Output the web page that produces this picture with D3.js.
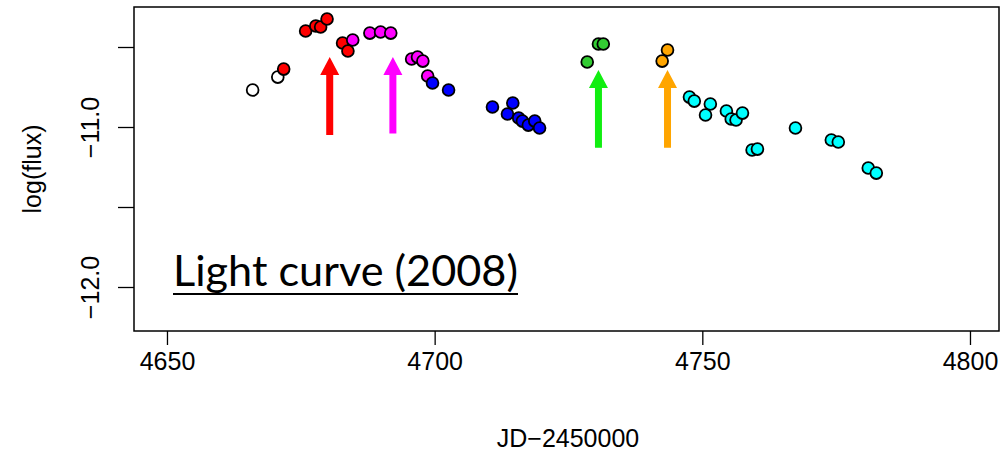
<!DOCTYPE html>
<html>
<head>
<meta charset="utf-8">
<script src="https://cdn.jsdelivr.net/npm/d3@7"></script>
<style>
  body { margin: 0; background: #fff; }
  svg { display: block; }
</style>
</head>
<body>
<script>
// light curve data (JD-2450000, log flux)
var openJD   = [4666.0, 4670.7];
var openFlux = [-10.769, -10.688];

var redJD   = [4671.8, 4675.9, 4677.8, 4678.7, 4679.9, 4682.8, 4683.8];
var redFlux = [-10.638, -10.400, -10.369, -10.375, -10.325, -10.475, -10.525];

var magentaJD   = [4684.7, 4687.9, 4689.9, 4691.8, 4695.7, 4696.8, 4697.8, 4698.7];
var magentaFlux = [-10.456, -10.413, -10.406, -10.413, -10.575, -10.563, -10.588, -10.681];

var blueJD   = [4699.6, 4702.6, 4710.8, 4713.6, 4714.6, 4715.7, 4716.4, 4717.5, 4718.7, 4719.6];
var blueFlux = [-10.725, -10.769, -10.875, -10.919, -10.850, -10.944, -10.963, -10.988, -10.963, -11.006];

var greenJD   = [4728.5, 4730.6, 4731.5];
var greenFlux = [-10.594, -10.481, -10.481];

var orangeJD   = [4742.5, 4743.5];
var orangeFlux = [-10.588, -10.519];

var cyanJD   = [4747.6, 4748.5, 4750.6, 4751.5, 4754.5, 4755.4, 4756.3, 4757.5, 4759.3, 4760.3,
                4767.4, 4774.1, 4775.4, 4781.0, 4782.5];
var cyanFlux = [-10.813, -10.838, -10.925, -10.856, -10.900, -10.950, -10.956, -10.913, -11.144, -11.138,
                -11.006, -11.081, -11.094, -11.256, -11.288];

// arrows marking the flares: jd, tip, tail
var arrowJD   = [4680.4, 4692.2, 4730.6, 4743.5];
var arrowTip  = [-10.5625, -10.5625, -10.644, -10.644];
var arrowTail = [-11.05, -11.04, -11.13, -11.13];
var arrowColors = ["#ff0000", "#ff00ff", "#11ee11", "#ffa500"];

var xTicks = [4650, 4700, 4750, 4800];
var yTicks = [-10.5, -11.0, -11.5, -12.0];
var yTickLabels = ["", "\u221211.0", "", "\u221212.0"];

/* ========= Constants ========= */
var w = 1005;
var h = 452;
var plotLeft = 134, plotRight = 999, plotTop = 7, plotBottom = 331;
var axisFont = "Liberation Sans, Arial, sans-serif";
var axisSize = "25px";

var groups = [
    {jd: openJD, flux: openFlux, fill: "#ffffff"},
    {jd: redJD, flux: redFlux, fill: "#ff0000"},
    {jd: magentaJD, flux: magentaFlux, fill: "#ff00ff"},
    {jd: blueJD, flux: blueFlux, fill: "#0000ff"},
    {jd: greenJD, flux: greenFlux, fill: "#33cc33"},
    {jd: orangeJD, flux: orangeFlux, fill: "#ffa500"},
    {jd: cyanJD, flux: cyanFlux, fill: "#00ffff"}
];

var svg = d3.select("body")
    .append("svg")
    .attr("width", w)
    .attr("height", h);

var xScale = d3.scaleLinear()
    .domain([4643.84, 4805.42])
    .range([plotLeft, plotRight]);
var yScale = d3.scaleLinear()
    .domain([-10.25, -12.275])
    .range([plotTop, plotBottom]);

/* ========= Axes ========= */
var xAxis = svg.append("g")
    .attr("transform", "translate(0," + plotBottom + ")")
    .call(d3.axisBottom(xScale)
        .tickValues(xTicks)
        .tickSize(14)
        .tickPadding(7)
        .tickFormat(d3.format("d")));
xAxis.select(".domain").remove();
xAxis.selectAll("line").attr("stroke", "#000").attr("stroke-width", 1.3);
xAxis.selectAll("text")
    .attr("font-family", axisFont)
    .attr("font-size", axisSize)
    .attr("fill", "#000");

var yAxis = svg.append("g")
    .attr("transform", "translate(" + plotLeft + ",0)")
    .call(d3.axisLeft(yScale)
        .tickValues(yTicks)
        .tickSize(16)
        .tickFormat(function (d, i) { return yTickLabels[i]; }));
yAxis.select(".domain").remove();
yAxis.selectAll("line").attr("stroke", "#000").attr("stroke-width", 1.3);
yAxis.selectAll("text")
    .attr("font-family", axisFont)
    .attr("font-size", axisSize)
    .attr("fill", "#000")
    .attr("text-anchor", "middle")
    .attr("dy", null)
    .attr("x", null)
    .attr("transform", "translate(-44,0) rotate(-90)")
    .attr("dominant-baseline", "central");

// frame
svg.append("rect")
    .attr("x", plotLeft)
    .attr("y", plotTop)
    .attr("width", plotRight - plotLeft)
    .attr("height", plotBottom - plotTop)
    .attr("fill", "none")
    .attr("stroke", "#000")
    .attr("stroke-width", 1.5);

// axis titles
svg.append("text")
    .attr("x", 568)
    .attr("y", 438)
    .attr("text-anchor", "middle")
    .attr("dominant-baseline", "central")
    .attr("font-family", axisFont)
    .attr("font-size", axisSize)
    .text("JD\u22122450000");

svg.append("text")
    .attr("transform", "translate(32," + ((plotTop + plotBottom) / 2) + ") rotate(-90)")
    .attr("text-anchor", "middle")
    .attr("dominant-baseline", "central")
    .attr("font-family", axisFont)
    .attr("font-size", axisSize)
    .text("log(flux)");

/* ========= Arrows ========= */
arrowJD.forEach(function (jd, i) {
    var cx = xScale(jd);
    var tip = yScale(arrowTip[i]);
    var tail = yScale(arrowTail[i]);
    var sw = 3.5, hw = 9.5, hl = 18;
    var pts = [
        [cx, tip], [cx + hw, tip + hl], [cx + sw, tip + hl], [cx + sw, tail],
        [cx - sw, tail], [cx - sw, tip + hl], [cx - hw, tip + hl]
    ];
    svg.append("polygon")
        .attr("points", pts.map(function (p) { return p.join(","); }).join(" "))
        .attr("fill", arrowColors[i]);
});

/* ========= Points ========= */
groups.forEach(function (g) {
    svg.append("g")
        .selectAll("circle")
        .data(g.jd)
        .enter()
        .append("circle")
        .attr("cx", function (d) { return xScale(d); })
        .attr("cy", function (d, i) { return yScale(g.flux[i]); })
        .attr("r", 5.9)
        .attr("fill", g.fill)
        .attr("stroke", "#000")
        .attr("stroke-width", 1.8);
});

/* ========= Label ========= */
var label = svg.append("text")
    .attr("x", 173)
    .attr("y", 286)
    .attr("font-family", "Lato, Open Sans, sans-serif")
    .attr("font-size", "44px")
    .attr("fill", "#000")
    .text("Light curve (2008)");
var len = label.node().getComputedTextLength();
label.attr("font-size", (44 * 345 / len) + "px");
svg.append("line")
    .attr("x1", 173)
    .attr("x2", 518)
    .attr("y1", 294)
    .attr("y2", 294)
    .attr("stroke", "#000")
    .attr("stroke-width", 2);
</script>
</body>
</html>
